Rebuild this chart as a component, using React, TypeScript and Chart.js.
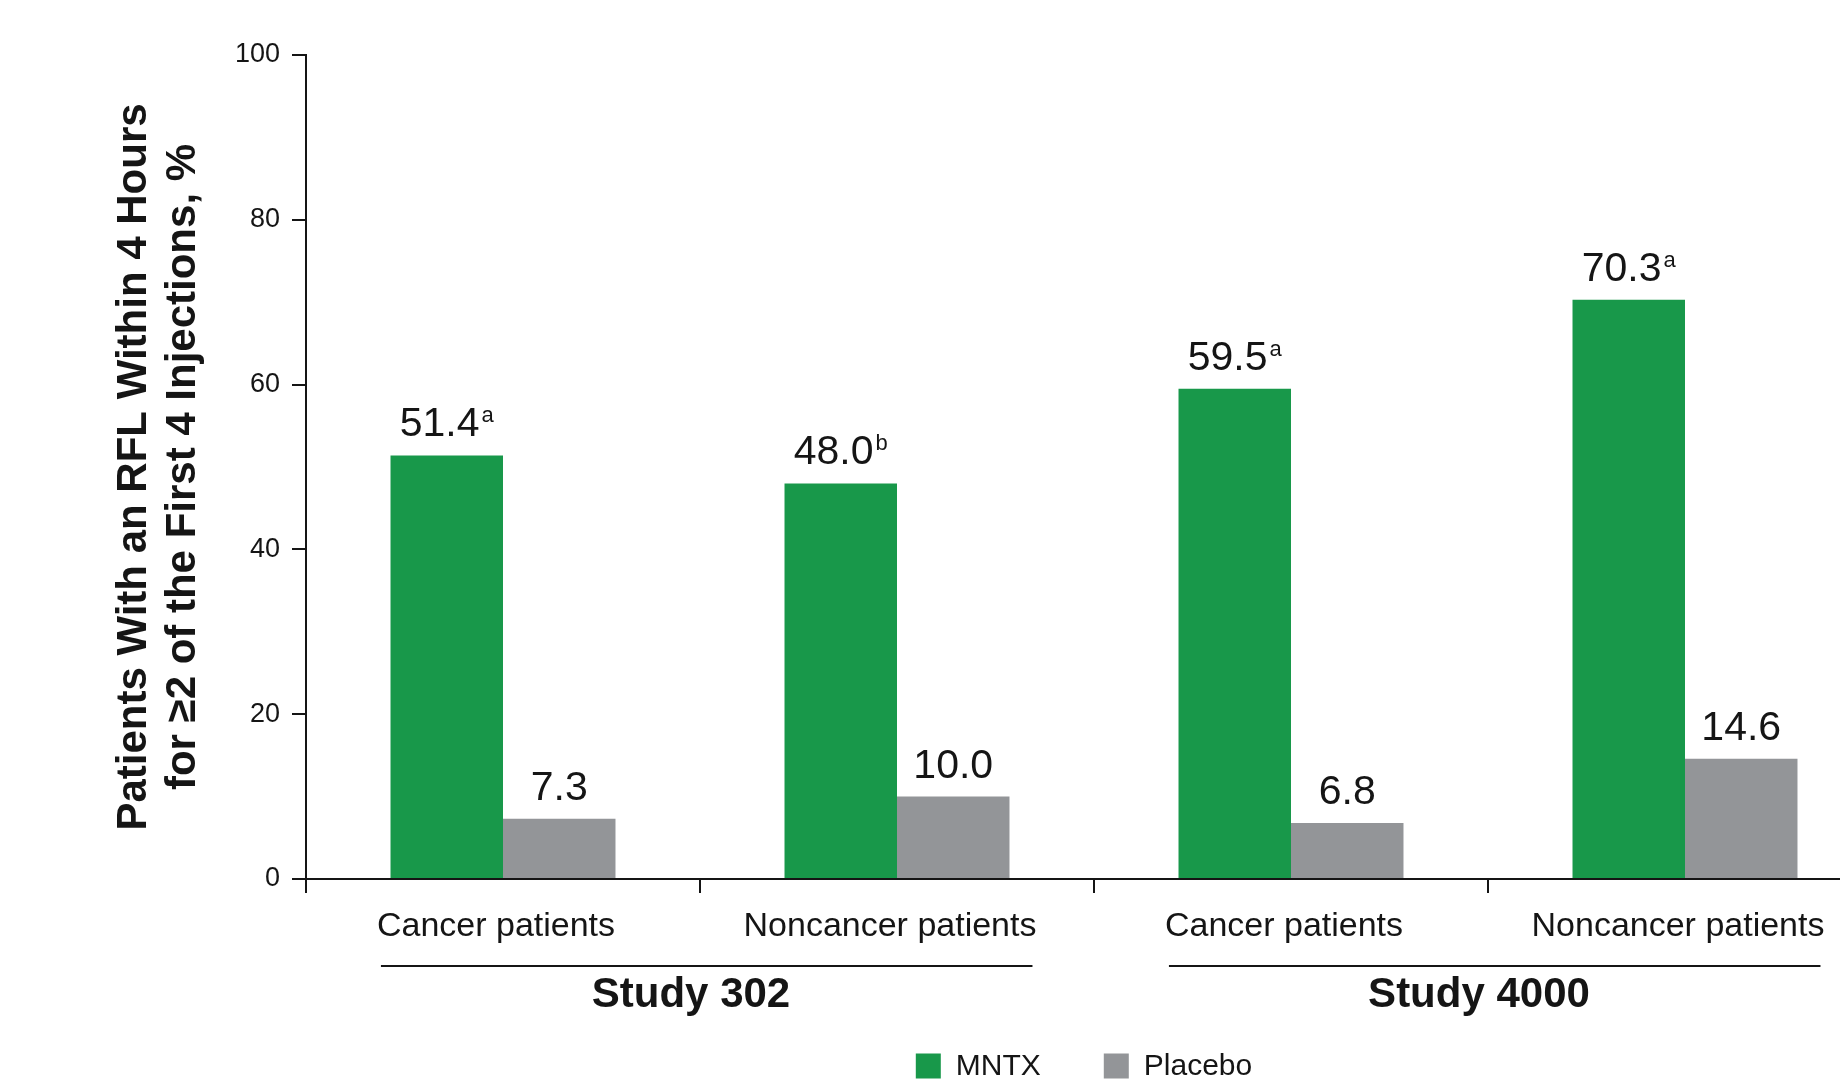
import { useEffect, useRef } from 'react';
import { Chart, registerables } from 'chart.js';

Chart.register(...registerables);

// ---- data ----
const categories = ['Cancer patients', 'Noncancer patients', 'Cancer patients', 'Noncancer patients'];
const mntxValues = [51.4, 48.0, 59.5, 70.3];
const mntxNotes = ['a', 'b', 'a', 'a'];
const placeboValues = [7.3, 10.0, 6.8, 14.6];
const studyLabels = ['Study 302', 'Study 4000'];
const studySizes = [2, 2];
const seriesNames = ['MNTX', 'Placebo'];
const yTitleLines = ['Patients With an RFL Within 4 Hours', 'for \u22652 of the First 4 Injections, %'];

// ---- style ----
const FONT = '"Liberation Sans", Arial, Helvetica, sans-serif';
const INK = '#151515';
const GREEN = '#18984a';
const GRAY = '#939598';

const CANVAS_W = 1900;
const CANVAS_H = 1089;
const LABEL_SHIFT = -7;

const annotate = {
  id: 'annotate',
  afterDraw(chart: any) {
    const ctx: CanvasRenderingContext2D = chart.ctx;
    const xs = chart.scales.x;
    const area = chart.chartArea;
    ctx.save();
    ctx.fillStyle = INK;
    ctx.strokeStyle = INK;

    // value labels above each bar
    chart.data.datasets.forEach((ds: any, di: number) => {
      const meta = chart.getDatasetMeta(di);
      const notes = di === 0 ? mntxNotes : [];
      meta.data.forEach((bar: any, i: number) => {
        const text = Number(ds.data[i]).toFixed(1);
        const note = notes[i] || '';
        ctx.font = `41px ${FONT}`;
        const w1 = ctx.measureText(text).width;
        ctx.font = `22px ${FONT}`;
        const w2 = note ? ctx.measureText(note).width + 2 : 0;
        const left = bar.x - (w1 + w2) / 2;
        const base = bar.y - 19;
        ctx.textAlign = 'left';
        ctx.textBaseline = 'alphabetic';
        ctx.font = `41px ${FONT}`;
        ctx.fillText(text, left, base);
        if (note) {
          ctx.font = `22px ${FONT}`;
          ctx.fillText(note, left + w1 + 2, base - 14);
        }
      });
    });

    // study group rules and labels
    let start = 0;
    studyLabels.forEach((label, g) => {
      const end = start + studySizes[g] - 1;
      ctx.font = `34px ${FONT}`;
      const firstW = ctx.measureText(categories[start]).width;
      const lastW = ctx.measureText(categories[end]).width;
      const x0 = xs.getPixelForValue(start) + LABEL_SHIFT - firstW / 2 + 4;
      const x1 = xs.getPixelForValue(end) + LABEL_SHIFT + lastW / 2 - 4;
      ctx.lineWidth = 2;
      ctx.beginPath();
      ctx.moveTo(x0, area.bottom + 87);
      ctx.lineTo(x1, area.bottom + 87);
      ctx.stroke();
      ctx.font = `bold 42px ${FONT}`;
      ctx.textAlign = 'center';
      ctx.textBaseline = 'middle';
      const cx = (xs.getPixelForValue(start) + xs.getPixelForValue(end)) / 2 - 9;
      ctx.fillText(label, cx, area.bottom + 116);
      start = end + 1;
    });

    // legend
    const box = 25;
    const gapText = 15;
    const gapItem = 63;
    ctx.font = `30px ${FONT}`;
    const widths = seriesNames.map((n) => box + gapText + ctx.measureText(n).width);
    const total = widths.reduce((a, b) => a + b, 0) + gapItem * (widths.length - 1);
    let lx = (area.left + area.right) / 2 - 10 - total / 2;
    const ly = 1066;
    chart.data.datasets.forEach((ds: any, di: number) => {
      ctx.fillStyle = ds.backgroundColor;
      ctx.fillRect(lx, ly - box / 2, box, box);
      ctx.fillStyle = INK;
      ctx.textAlign = 'left';
      ctx.textBaseline = 'middle';
      ctx.fillText(ds.label, lx + box + gapText, ly + 1);
      lx += widths[di] + gapItem;
    });

    // rotated two-line y-axis title
    const midY = (area.top + area.bottom) / 2;
    ctx.font = `bold 42px ${FONT}`;
    ctx.textAlign = 'center';
    ctx.textBaseline = 'middle';
    yTitleLines.forEach((line, k) => {
      ctx.save();
      ctx.translate(134 + k * 49, midY);
      ctx.rotate(-Math.PI / 2);
      ctx.fillText(line, 0, 0);
      ctx.restore();
    });

    ctx.restore();
  },
};

export default function App() {
  const ref = useRef<HTMLCanvasElement>(null);

  useEffect(() => {
    const chart = new Chart(ref.current as HTMLCanvasElement, {
      type: 'bar',
      data: {
        labels: categories,
        datasets: [
          { label: seriesNames[0], data: mntxValues, backgroundColor: GREEN, borderWidth: 0 },
          { label: seriesNames[1], data: placeboValues, backgroundColor: GRAY, borderWidth: 0 },
        ],
      },
      options: {
        responsive: false,
        animation: false,
        devicePixelRatio: 1,
        categoryPercentage: 0.571,
        barPercentage: 1,
        layout: { padding: { left: 200, right: CANVAS_W - 1882, top: 55, bottom: 0 } },
        plugins: {
          legend: { display: false },
          tooltip: { enabled: false },
        },
        scales: {
          x: {
            type: 'category',
            offset: true,
            afterFit: (s: any) => {
              s.height = 210;
            },
            grid: {
              display: true,
              offset: true,
              drawOnChartArea: false,
              drawTicks: true,
              tickLength: 14,
              color: INK,
              lineWidth: 2,
            },
            border: { display: true, color: INK, width: 2 },
            ticks: {
              autoSkip: false,
              maxRotation: 0,
              minRotation: 0,
              padding: 13,
              labelOffset: LABEL_SHIFT,
              color: INK,
              font: { family: FONT, size: 34 },
            },
          },
          y: {
            min: 0,
            max: 100,
            afterFit: (s: any) => {
              s.width = 106;
            },
            grid: {
              display: true,
              drawOnChartArea: false,
              drawTicks: true,
              tickLength: 14,
              color: INK,
              lineWidth: 2,
            },
            border: { display: true, color: INK, width: 2 },
            ticks: {
              stepSize: 20,
              padding: 12,
              color: INK,
              font: { family: FONT, size: 27 },
            },
          },
        },
      },
      plugins: [annotate],
    } as any);
    return () => chart.destroy();
  }, []);

  return (
    <div
      style={{
        position: 'absolute',
        left: 0,
        top: 0,
        width: 1840,
        height: 1089,
        overflow: 'hidden',
        background: '#ffffff',
      }}
    >
      <canvas ref={ref} width={CANVAS_W} height={CANVAS_H} style={{ display: 'block', width: CANVAS_W, height: CANVAS_H }} />
    </div>
  );
}
